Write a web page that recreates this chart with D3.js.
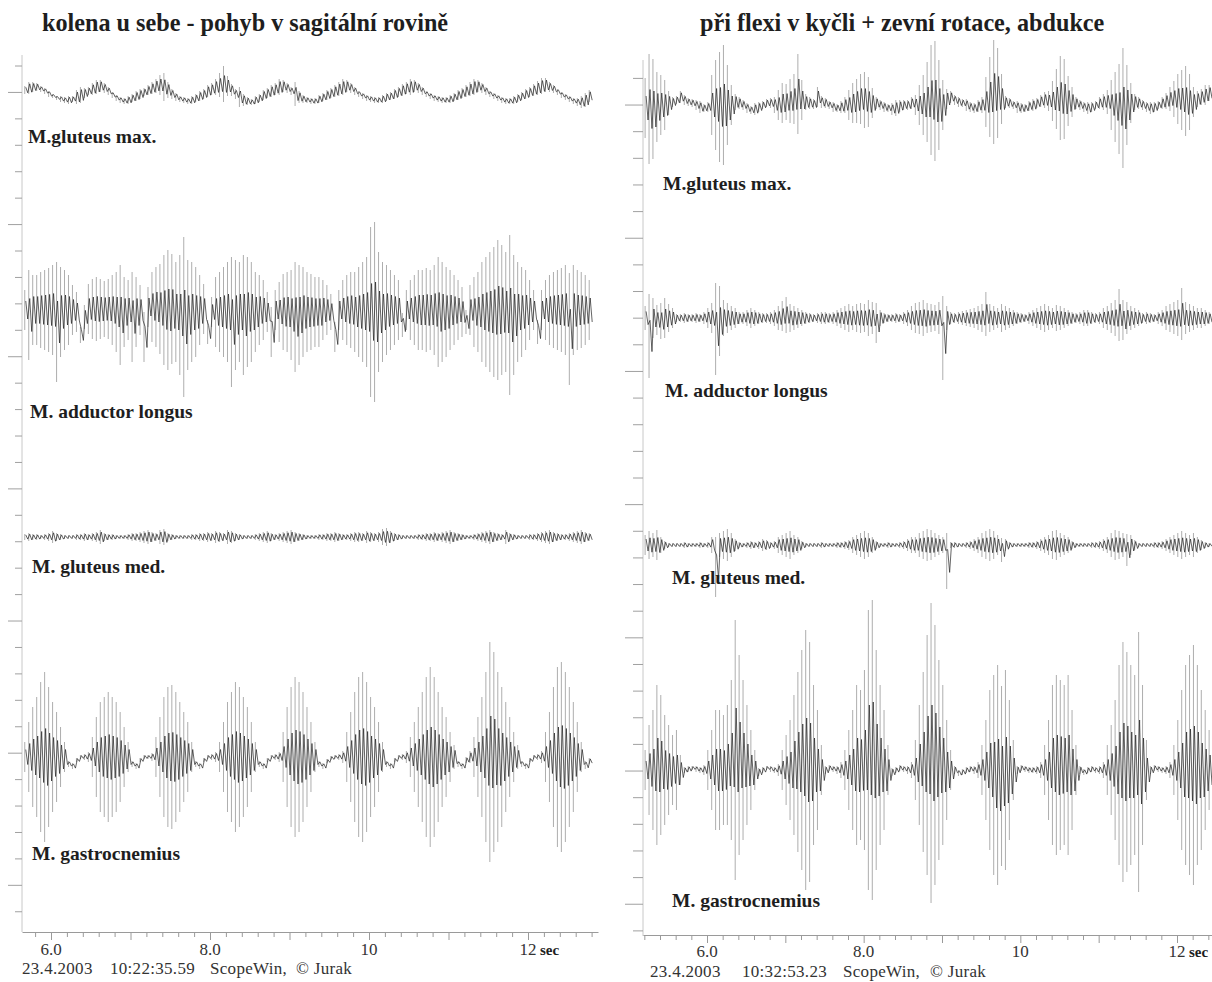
<!DOCTYPE html>
<html>
<head>
<meta charset="utf-8">
<script src="https://cdn.jsdelivr.net/npm/d3@7"></script>
<style>
    body { margin: 0; background: #fff; }
    svg { display: block; }
    text { font-family: "Liberation Serif", "Times New Roman", serif; fill: #1e1e1e; }
</style>
</head>
<body>
<svg id="chart" width="1212" height="982"></svg>
<script>

// texts
var titles = ["kolena u sebe - pohyb v sagitální rovině", "při flexi v kyčli + zevní rotace, abdukce"];
var muscles = ["M.gluteus max.", "M. adductor longus", "M. gluteus med.", "M. gastrocnemius"];
var timeTicks = [6, 8, 10, 12];
var timeTickLabels = ["6.0", "8.0", "10", "12"];
var footerLeft = ["23.4.2003", "10:22:35.59", "ScopeWin,", "© Jurak"];
var footerRight = ["23.4.2003", "10:32:53.23", "ScopeWin,", "© Jurak"];

// sampling of the read-off envelopes (sec)
var step = 0.05;
var leftStart = 5.67;
var rightStart = 5.21;

// each trace: centre of the band (mid) and half spread (amp), one value per 50 ms
// ---- left: kolena u sebe ----
var leftGluteusMaxMid = [2,4,5, 5,3,1,-2,-4,-6,-7,-8, -8,-7,-5,-3,-1,1,3,5,6, 4,1,-3,-6,-8,-9, -8,-6,-4,-2,0,2,4,6,7,
    5,2,-2,-5,-7,-8,-9, -8,-6,-4,-2,1,3,5,7,8, 6,2,-2,-5,-8,-9,-10, -8,-6,-3,-1,1,3,5,6, 4,1,-2,-5,-7,-8,-9,-9,
    -7,-5,-3,-1,1,3,5,6, 4,1,-2,-4,-6,-7,-8,-8, -7,-5,-4,-2,0,2,4,5,6, 4,1,-2,-4,-6,-7,-8,-8, -7,-5,-3,-1,1,3,5,6,
    4,1,-2,-4,-6,-8,-9,-9, -8,-6,-4,-2,0,2,4,6,7, 5,3,0,-3,-5,-7,-9,-10,-10, -8,-4];
var leftGluteusMaxAmp = [4,6,5, 4,3,3,3,2,2,3,3, 4,3,7,8,5,4,6,7,6, 5,4,3,3,3,3, 4,4,5,5,4,5,6,7,10,
    14,8,5,4,3,3,3, 4,4,5,5,6,6,8,12,18, 10,6,5,10,6,4,3, 4,4,5,5,6,6,8,6, 5,4,12,6,4,3,3,3,
    4,4,5,5,6,7,8,6, 5,4,3,3,3,3,3,3, 4,4,4,5,5,6,6,8,6, 5,4,3,3,3,3,3,3, 4,4,5,5,6,7,8,6,
    5,4,3,3,3,3,3,3, 4,4,4,5,5,6,7,8,7, 5,4,3,3,3,3,3,4,6, 7,6];

var leftAdductorMid = [-3,-8,-3,-3,-3,-3,-3,-3,-15,-5,-3,-3,-3,-5, -28,
    -10,-2,-2,-2,-2,-2,-2,-3,-5,-8,-5,-3,-10,-5,-3, -30,
    0,0,0,-2,-3,-3,-2,-5,-8,-10,-8,-5,-5,-3,-2, -25,
    -5,-5,-5,-5,-5,-15,-8,-5,-8,-5,-5,-5,-3,-3,-5, -25,
    -3,-5,-5,-5,-8,-10,-8,-5,-5,-5,-5,-5,-3,-3,-5, -30,
    -3,-3,-3,-3,-5,-5,-5,-5,-5,-5,-5,-5,-3,-3,-3,-3, -18,
    -3,-3,-3,-3,-3,-3,-3,-3,-5,-5,-5,-3,-3,-3,-5, -15,
    -3,-5,-5,-5,-5,-5,-5,-3,-3,-5,-8,-8,-5,-5,-3,-3,-3, -25,
    -3,-3,-3,-3,-3,-3,-3,-22,-3,-3,-3,-3,-3];
var leftAdductorAmp = [20,45,35,35,38,40,42,45,60,45,40,35,25,20, 8,
    12,25,30,32,30,28,30,35,40,50,35,30,45,35,25, 25,
    20,35,40,45,55,60,55,50,60,80,55,50,45,35,25, 12,
    15,35,40,45,50,65,55,50,60,55,50,40,35,30,20, 25,
    20,30,38,40,45,55,50,45,40,38,35,35,30,25,18, 15,
    20,30,35,38,40,45,50,55,85,90,60,50,45,40,35,30, 12,
    20,30,35,40,40,42,40,45,55,50,45,40,35,30,25, 12,
    25,35,40,50,55,60,65,70,65,60,80,60,50,45,40,30,20, 12,
    20,30,35,38,40,42,45,56,45,40,38,35,30];

var leftGluteusMedAmp = [3,4,3,3,2,3,4, 6,4,3, 2,2,2,3,3,4,3, 4,5,7,4,3,3, 2,2,2,3,4,4,5,
    6,7,5,4,7,8,4, 3,2,2,2,2,3,3,4,4, 5,4,6,5,4,7,6,4,3, 2,2,2,3,4,5,6,4, 3,4,5,6,7,5,4,3,
    2,2,2,3,3,4,4,5,4,3, 3,4,5,5,4,6,5,4,5,8,9,6,4, 3,2,2,2,2,3,3,4,4,5,4, 5,6,7,5,4,3,2,2,
    3,4,5,6,7,5,4,3, 7,4,3,2,2,2,3,3, 4,5,6,7,5,4,3,3, 4,5,6,7,5,4];

var leftGastroMid = [0,0,0,0,0,0,0,0,0,0,0, -7,-9,-3,0,0,0, 0,0,0,0,0,0,0,0,0,0, -7,-9,-3,0,0,0,
    0,0,0,0,0,0,0,0,0,0, -7,-9,-3,0,0,0, 0,0,0,0,0,0,0,0,0,0, -7,-9,-3,0,0,0,
    0,0,0,0,0,0,0,0,0, -7,-9,-4,-1,0,0,0, 0,0,0,0,0,0,0,0,0,0, -7,-9,-3,0,0,0,
    0,0,0,0,0,0,0,0,0,0,0,0, -7,-9,-3,0, 0,0,0,0,5,5,0,0,0,0,0,0, -7,-9,-3,0,0,0,
    0,0,0,0,0,0,0,0,0,0, -8,-4];
var leftGastroAmp = [15,35,50,60,75,85,70,55,45,30,15, 3,3,2,2,3,5, 20,40,55,60,65,60,55,45,30,15, 3,3,2,2,2,4,
    20,40,60,70,72,65,55,45,35,15, 3,3,2,2,3,5, 15,35,55,65,75,70,60,50,35,15, 3,3,2,2,3,5,
    25,50,70,80,75,65,50,35,15, 3,3,2,2,2,3,6, 25,45,65,80,85,75,60,50,35,15, 3,3,2,2,3,6,
    20,35,50,65,80,90,80,65,50,40,25,12, 3,3,3,6, 20,40,60,85,110,100,85,70,55,40,25,12, 3,3,2,2,3,6,
    25,45,70,90,95,85,70,55,35,15, 4,3];

// ---- right: při flexi v kyčli ----
var rightGluteusMaxMid = [-3,-4,-4,-2,0,0,2, 3,5,8,5,3,2,0,-2,-3,-2, 0,0,-2,0,0,0, 3,2,0,-3,-5,-4,-2,0,2,2,0,
    0,2,3,4,6,11,5, 3,2,1,8,3,2,0,-2,-3,-2,0, 0,2,4,6,5,3,2, 2,0,-2,-3,-4,-3,-1,0,0,2,0,
    0,0,3,5,4,0,0, 6,8,5,3,2,0,-2,-3,-1,0, 3,8,13,12,6, 3,2,0,-2,-3,-3,-1,0,2,4,5,4,
    4,6,7,6,4,3, 2,0,-2,-3,-2,0,2,3,3, 0,-2,-4,-3,0,2, 3,2,0,-2,-3,-2,0,2,4,6, 6,6,5,4,3,3, 6,8,10,12];
var rightGluteusMaxAmp = [30,55,50,35,30,25,12, 5,4,6,5,4,4,5,6,4,5, 30,45,55,60,40,20, 8,6,5,5,4,6,5,4,4,5,8,
    15,20,18,22,25,40,20, 8,6,5,10,6,5,4,5,4,6,8, 15,20,22,25,28,25,15, 6,5,5,4,6,8,6,5,5,6,10,
    20,30,40,55,60,45,25, 10,6,5,5,4,6,5,5,6,8, 25,40,52,45,25, 6,5,4,6,5,4,5,6,5,6,8,10,
    20,30,42,40,25,15, 6,5,5,6,5,4,6,8,12, 25,35,45,60,40,20, 8,6,5,5,6,5,4,6,8,12, 18,25,30,35,28,15, 8,8,10,8];

var rightAdductorMid = [0,-18,0,-2,-3,0,0,0,0,0, 0,0,0,0,0,0,0,0,-11,-3, 0,0,0,0,0,0,0,0,0,0,
    0,0,0,0,0,2,3,0,0,0, 0,0,0,0,0,0,0,0,0,0, 0,0,0,0,0,0,0,0,0,-5, 0,0,0,0,0,0,0,0,0,0,
    0,0,0,0,0,0,-20,0,0,0, 0,0,0,0,0,0,0,4,0,0, 0,0,0,0,0,0,0,0,0,0, 0,0,0,0,0,0,0,0,0,0,
    0,0,0,0,0,0,0,0,0,0, 0,3,-2,0,0,0,0,0,0,0, 0,0,0,0,0,0,0,4,0,0, 0,0,0,0,0];
var rightAdductorAmp = [12,42,20,15,18,20,14,10, 4,4,5,4,4,5,4,6, 10,15,46,35,18,15,12,10, 6,6,8,10,8,6,5,5,6,8,
    12,15,18,14,12,10,8,6, 5,4,5,6,6,5,6, 8,10,12,14,12,14,15,14,18,16,20, 8,5,4,4,5,4,6,
    8,12,15,16,18,15,14,13,16,42,12, 6,5,6,7,8,9,10, 12,14,22,14,12,10,14,12,10,8, 6,5,4,6,8,10,
    12,14,12,10,13,12,10,8, 6,5,6,8,8,6,5,6, 10,12,15,18,26,20,16,12,10,8, 5,6,5,4,6,8,
    12,14,16,18,26,16,14,12,10,10,8,6];

var rightGluteusMedMid = [0,0,0,0,0,0,0,0,0,0, 0,0,0,0,0,0,0,0,-22,0, 0,0,0,0,0,0,0,0,0,0,
    0,0,0,0,0,0,0,0,0,0, 0,0,0,0,0,0,0,0,0,0, 0,0,0,0,0,0,0,0,0,0, 0,0,0,0,0,0,0,0,0,0,
    0,0,0,0,0,0,0,-16,0,0, 0,0,0,0,0,0,0,0,0,0, 0,-5,0,0,0,0,0,0,0,0, 0,0,0,0,0,0,0,0,0,0,
    0,0,0,0,0,0,0,0,0,0, 0,0,0,-5,0,0,0,0,0,0, 0,0,0,0,0,0,0,0,0,0, 0,0,0,0,0];
var rightGluteusMedAmp = [10,14,12,15,8,4, 2,2,2,2,3,2,2,2,3,2,3, 8,30,12,14,16,12,6, 3,2,3,4,3,4,6,5,3,4,
    8,10,12,14,10,8,4, 2,2,2,2,3,2,2,2,3,3,4,5, 8,10,12,14,12,8,4, 2,2,3,2,2,3,4,6,8,
    8,12,14,16,15,12,10,8,28, 3,3,2,2,3,4,6, 8,12,14,16,14,10,12,6, 3,2,2,2,2,3,3,4,6,
    8,10,14,15,12,10,8,4, 2,2,2,2,3,3,4,6, 8,12,15,14,12,16,10,5, 2,2,2,2,3,3,4,6,
    8,10,12,14,12,10,12,8,5, 3,2];

var rightGastroMid = [0,0,0,5,5,0,0,0,0,0, 0,1,2,1,0,0, 0,0,0,0,0,5,10,20,15,10,5,0,0, -2,0,2,1,0,0,
    0,0,0,5,8,10,10,8,5,0,0, 0,2,1,0,0, 0,0,0,5,5,10,20,20,10,5,0,0, -2,0,2,1,0,0,
    0,5,8,15,17,15,10,5,0,0, 0,-3,-2,0,1,0,0, 0,0,0,-5,-5,-6,0,0,0, 0,2,1,0,0,0,0,
    0,0,5,5,5,5,5,0,0, 0,-2,0,1,0,0,0, 0,0,0,5,8,8,5,5,8,5,0, 0,2,1,0,0,0, 0,0,0,5,5,5,5,0,0,0];
var rightGastroAmp = [20,45,60,80,70,55,45,35,40,15, 3,3,2,3,3,5, 20,40,60,60,55,60,80,130,100,80,60,40,20, 4,3,2,3,3,6,
    20,35,50,70,90,110,130,120,80,60,25, 4,3,3,4,8, 20,40,60,80,75,90,140,150,110,80,60,25, 4,3,3,3,4,8,
    30,60,90,120,150,130,100,80,50,20, 4,3,3,3,3,4,8, 25,50,80,100,110,90,100,70,30, 4,3,3,3,3,4,8,
    25,50,80,90,85,80,90,60,25, 4,3,3,3,3,4,8, 25,45,70,100,120,110,100,90,130,80,30, 4,3,3,3,4,8,
    25,50,80,100,110,120,100,80,60,40];


var panels = [
    {
        title: titles[0], titleX: 42, start: leftStart,
        xRange: [51, 528], axisX: 22, axisTop: 55, axisBottom: 932,
        bottomY: 932, bottomRight: 598,
        tickTop: 66, tickGap: 26.43, tickCount: 33, longTick: 14, shortTick: 7,
        labelY: 955, footer: footerLeft, footerX: [22, 110, 210, 296], footerY: 974,
        traces: [
            {mid: leftGluteusMaxMid, amp: leftGluteusMaxAmp, base: 92, lx: 28, ly: 143},
            {mid: leftAdductorMid, amp: leftAdductorAmp, base: 307, lx: 30, ly: 418},
            {mid: null, amp: leftGluteusMedAmp, base: 537, lx: 32, ly: 573},
            {mid: leftGastroMid, amp: leftGastroAmp, base: 757, lx: 32, ly: 860}
        ]
    },
    {
        title: titles[1], titleX: 700, start: rightStart,
        xRange: [707, 1177], axisX: 643, axisTop: 60, axisBottom: 936,
        bottomY: 935, bottomRight: 1212,
        tickTop: 78.4, tickGap: 26.64, tickCount: 33, longTick: 18, shortTick: 10,
        labelY: 957, footer: footerRight, footerX: [650, 742, 843, 930], footerY: 977,
        traces: [
            {mid: rightGluteusMaxMid, amp: rightGluteusMaxAmp, base: 105, lx: 663, ly: 190},
            {mid: rightAdductorMid, amp: rightAdductorAmp, base: 318, lx: 665, ly: 397},
            {mid: rightGluteusMedMid, amp: rightGluteusMedAmp, base: 545, lx: 672, ly: 584},
            {mid: rightGastroMid, amp: rightGastroAmp, base: 770, lx: 672, ly: 907}
        ]
    }
];

var svg = d3.select("#chart");

var line = d3.line()
    .x(function(d){ return d[0]; })
    .y(function(d){ return d[1]; });

function drawPanel(p) {
    var g = svg.append("g");

    var x = d3.scaleLinear().domain([6, 12]).range(p.xRange);

    // title
    g.append("text")
        .attr("x", p.titleX)
        .attr("y", 31)
        .style("font-size", "24.2px")
        .style("font-weight", "bold")
        .text(p.title);

    // vertical axis (no labels, only ticks)
    var yTick = d3.scaleLinear().domain([0, p.tickCount - 1])
        .range([p.tickTop, p.tickTop + (p.tickCount - 1) * p.tickGap]);

    g.append("line")
        .attr("x1", p.axisX).attr("x2", p.axisX)
        .attr("y1", p.axisTop).attr("y2", p.axisBottom)
        .attr("stroke", "#c8c8c8").attr("stroke-width", 1);

    g.selectAll(".vtick")
        .data(d3.range(p.tickCount))
        .enter().append("line")
        .attr("class", "vtick")
        .attr("x1", function(d){ return p.axisX - (d % 5 === 1 ? p.longTick : p.shortTick); })
        .attr("x2", p.axisX)
        .attr("y1", function(d){ return yTick(d); })
        .attr("y2", function(d){ return yTick(d); })
        .attr("stroke", "#a0a0a0").attr("stroke-width", 1);

    // time axis
    var tMin = x.invert(p.axisX), tMax = x.invert(p.bottomRight);
    var xa = x.copy().domain([tMin, tMax]).range([p.axisX, p.bottomRight]);
    var minor = d3.range(Math.ceil(tMin * 5), Math.floor(tMax * 5) + 1).map(function(k){ return k / 5; });

    var gX = g.append("g")
        .attr("transform", "translate(0," + p.bottomY + ")")
        .call(d3.axisBottom(xa).tickValues(minor).tickSize(5).tickSizeOuter(0).tickFormat(""));
    gX.select(".domain").attr("stroke", "#9a9a9a");
    gX.selectAll(".tick line")
        .attr("stroke", "#9a9a9a")
        .attr("y2", function(d){ return Math.abs(d - Math.round(d)) < 1e-6 ? 8 : 5; });

    g.selectAll(".tlabel")
        .data(timeTicks)
        .enter().append("text")
        .attr("class", "tlabel")
        .attr("x", function(d){ return x(d); })
        .attr("y", p.labelY)
        .attr("text-anchor", "middle")
        .style("font-size", "17px")
        .style("fill", "#333")
        .text(function(d, i){ return timeTickLabels[i]; });

    g.append("text")
        .attr("x", x(12) + 12)
        .attr("y", p.labelY)
        .style("font-size", "15px")
        .style("font-weight", "bold")
        .text("sec");

    g.selectAll(".foot")
        .data(p.footer)
        .enter().append("text")
        .attr("class", "foot")
        .attr("x", function(d, i){ return p.footerX[i]; })
        .attr("y", p.footerY)
        .style("font-size", "17px")
        .style("letter-spacing", "0.3px")
        .style("fill", "#333")
        .text(function(d){ return d; });

    // traces: light vertical spikes for the full spread, dark zigzag for the dense core
    p.traces.forEach(function(tr, k) {
        var y = d3.scaleLinear().domain([-100, 100]).range([tr.base + 100, tr.base - 100]);

        var spikes = d3.path(), core = [];
        tr.amp.forEach(function(a, i) {
            var m = tr.mid ? (tr.mid[i] || 0) : 0;
            var t = p.start + i * step;
            var c = Math.min(a * 0.7, 3 + a * 0.3);
            spikes.moveTo(x(t), y(m + a));
            spikes.lineTo(x(t), y(m - a));
            core.push([x(t + step / 4), y(m + c)], [x(t + step * 0.75), y(m - c)]);
        });

        g.append("path")
            .attr("d", spikes.toString())
            .attr("fill", "none")
            .attr("stroke", "#777")
            .attr("stroke-width", 0.6);

        g.append("path")
            .attr("d", line(core))
            .attr("fill", "none")
            .attr("stroke", "#222")
            .attr("stroke-width", 0.7);

        g.append("text")
            .attr("x", tr.lx)
            .attr("y", tr.ly)
            .style("font-size", "19.5px")
            .style("font-weight", "bold")
            .text(muscles[k]);
    });
}

panels.forEach(drawPanel);

</script>
</body>
</html>
